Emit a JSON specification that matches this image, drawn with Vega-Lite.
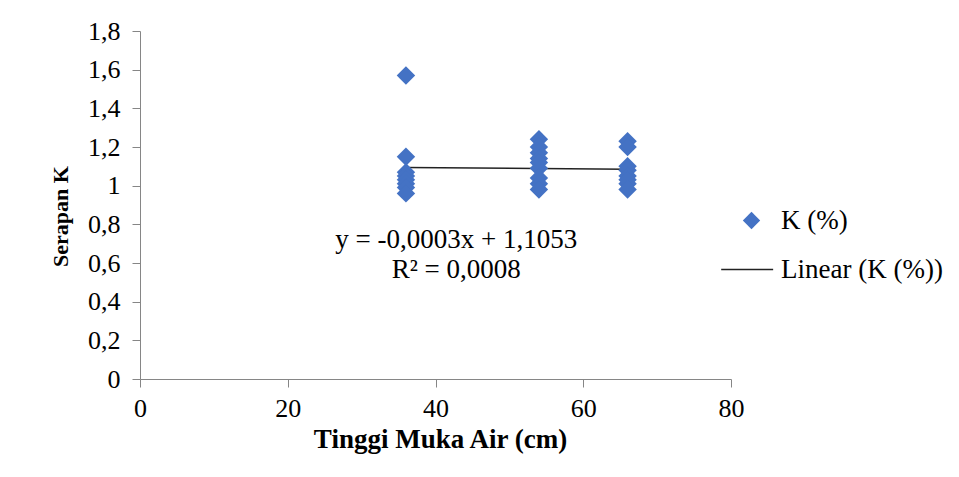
{
  "$schema": "https://vega.github.io/schema/vega-lite/v6.json",
  "width": 591,
  "height": 348,
  "autosize": {"type": "none"},
  "padding": {"left": 140, "top": 31, "right": 228, "bottom": 98},
  "background": "white",
  "config": {
    "view": {"stroke": null},
    "font": "Liberation Serif"
  },
  "datasets": {
    "serapan": [
      {"tinggi": 36, "k": 1.57},
      {"tinggi": 36, "k": 1.15},
      {"tinggi": 36, "k": 1.07},
      {"tinggi": 36, "k": 1.05},
      {"tinggi": 36, "k": 1.03},
      {"tinggi": 36, "k": 1.01},
      {"tinggi": 36, "k": 0.99},
      {"tinggi": 36, "k": 0.96},
      {"tinggi": 54, "k": 1.24},
      {"tinggi": 54, "k": 1.2},
      {"tinggi": 54, "k": 1.17},
      {"tinggi": 54, "k": 1.14},
      {"tinggi": 54, "k": 1.12},
      {"tinggi": 54, "k": 1.09},
      {"tinggi": 54, "k": 1.04},
      {"tinggi": 54, "k": 1.01},
      {"tinggi": 54, "k": 0.98},
      {"tinggi": 66, "k": 1.23},
      {"tinggi": 66, "k": 1.2},
      {"tinggi": 66, "k": 1.1},
      {"tinggi": 66, "k": 1.08},
      {"tinggi": 66, "k": 1.05},
      {"tinggi": 66, "k": 1.03},
      {"tinggi": 66, "k": 1.01},
      {"tinggi": 66, "k": 0.98}
    ],
    "trend": [
      {"tinggi": 36, "k": 1.0945},
      {"tinggi": 66, "k": 1.0855}
    ]
  },
  "layer": [
    {
      "data": {"name": "trend"},
      "mark": {"type": "line", "color": "#222222", "strokeWidth": 1.5},
      "encoding": {
        "x": {
          "field": "tinggi",
          "type": "quantitative",
          "scale": {"domain": [0, 80], "nice": false},
          "axis": {
            "values": [0, 20, 40, 60, 80],
            "tickCount": 20,
            "grid": false,
            "domainColor": "#868686",
            "tickColor": "#868686",
            "tickSize": 8,
            "labelFont": "Liberation Serif",
            "labelFontSize": 26,
            "labelColor": "#000000",
            "labelOverlap": false,
            "labelFlush": false,
            "labelPadding": 8,
            "title": "Tinggi Muka Air (cm)",
            "titleFont": "Liberation Serif",
            "titleFontSize": 27,
            "titleFontWeight": "bold",
            "titleColor": "#000000",
            "titleX": 300,
            "titlePadding": 5
          }
        },
        "y": {
          "field": "k",
          "type": "quantitative",
          "scale": {"domain": [0, 1.8], "nice": false},
          "axis": {
            "values": [0, 0.2, 0.4, 0.6, 0.8, 1, 1.2, 1.4, 1.6, 1.8],
            "tickCount": 20,
            "labelExpr": "replace(format(datum.value, '~g'), '.', ',')",
            "grid": false,
            "domainColor": "#868686",
            "tickColor": "#868686",
            "tickSize": 8,
            "labelFont": "Liberation Serif",
            "labelFontSize": 26,
            "labelColor": "#000000",
            "labelOverlap": false,
            "labelFlush": false,
            "labelPadding": 12,
            "title": "Serapan K",
            "titleFont": "Liberation Serif",
            "titleFontSize": 22,
            "titleFontWeight": "bold",
            "titleColor": "#000000",
            "titleY": 185,
            "titlePadding": 15
          }
        },
        "color": {
          "datum": "Linear (K (%))",
          "type": "nominal",
          "scale": {"domain": ["K (%)", "Linear (K (%))"], "range": ["#4472C4", "#222222"]},
          "legend": {
            "title": null,
            "orient": "none",
            "legendX": 598,
            "legendY": 176,
            "symbolSize": 300,
            "labelFont": "Liberation Serif",
            "labelFontSize": 27,
            "labelColor": "#000000",
            "labelLimit": 400,
            "labelOffset": 16,
            "rowPadding": 21,
            "encode": {
              "symbols": {
                "update": {
                  "shape": {"signal": "datum.value === 'K (%)' ? 'diamond' : 'M-3.5,0L2.5,0'"},
                  "fill": {"signal": "datum.value === 'K (%)' ? '#4472C4' : 'transparent'"},
                  "stroke": {"signal": "datum.value === 'K (%)' ? '#4472C4' : '#222222'"},
                  "strokeWidth": {"signal": "datum.value === 'K (%)' ? 0 : 1.3"},
                  "opacity": {"value": 1}
                }
              }
            }
          }
        }
      }
    },
    {
      "data": {"name": "serapan"},
      "mark": {"type": "point", "shape": "diamond", "filled": true, "size": 340, "opacity": 1},
      "encoding": {
        "x": {"field": "tinggi", "type": "quantitative"},
        "y": {"field": "k", "type": "quantitative"},
        "color": {"datum": "K (%)", "type": "nominal"}
      }
    },
    {
      "data": {"values": [{}]},
      "mark": {"type": "text", "font": "Liberation Serif", "fontSize": 27, "color": "#000000", "align": "center", "baseline": "middle", "lineHeight": 30},
      "encoding": {
        "x": {"datum": 42.8, "type": "quantitative"},
        "y": {"datum": 0.719, "type": "quantitative"},
        "text": {"value": ["y = -0,0003x + 1,1053", "R² = 0,0008"]}
      }
    }
  ]
}
